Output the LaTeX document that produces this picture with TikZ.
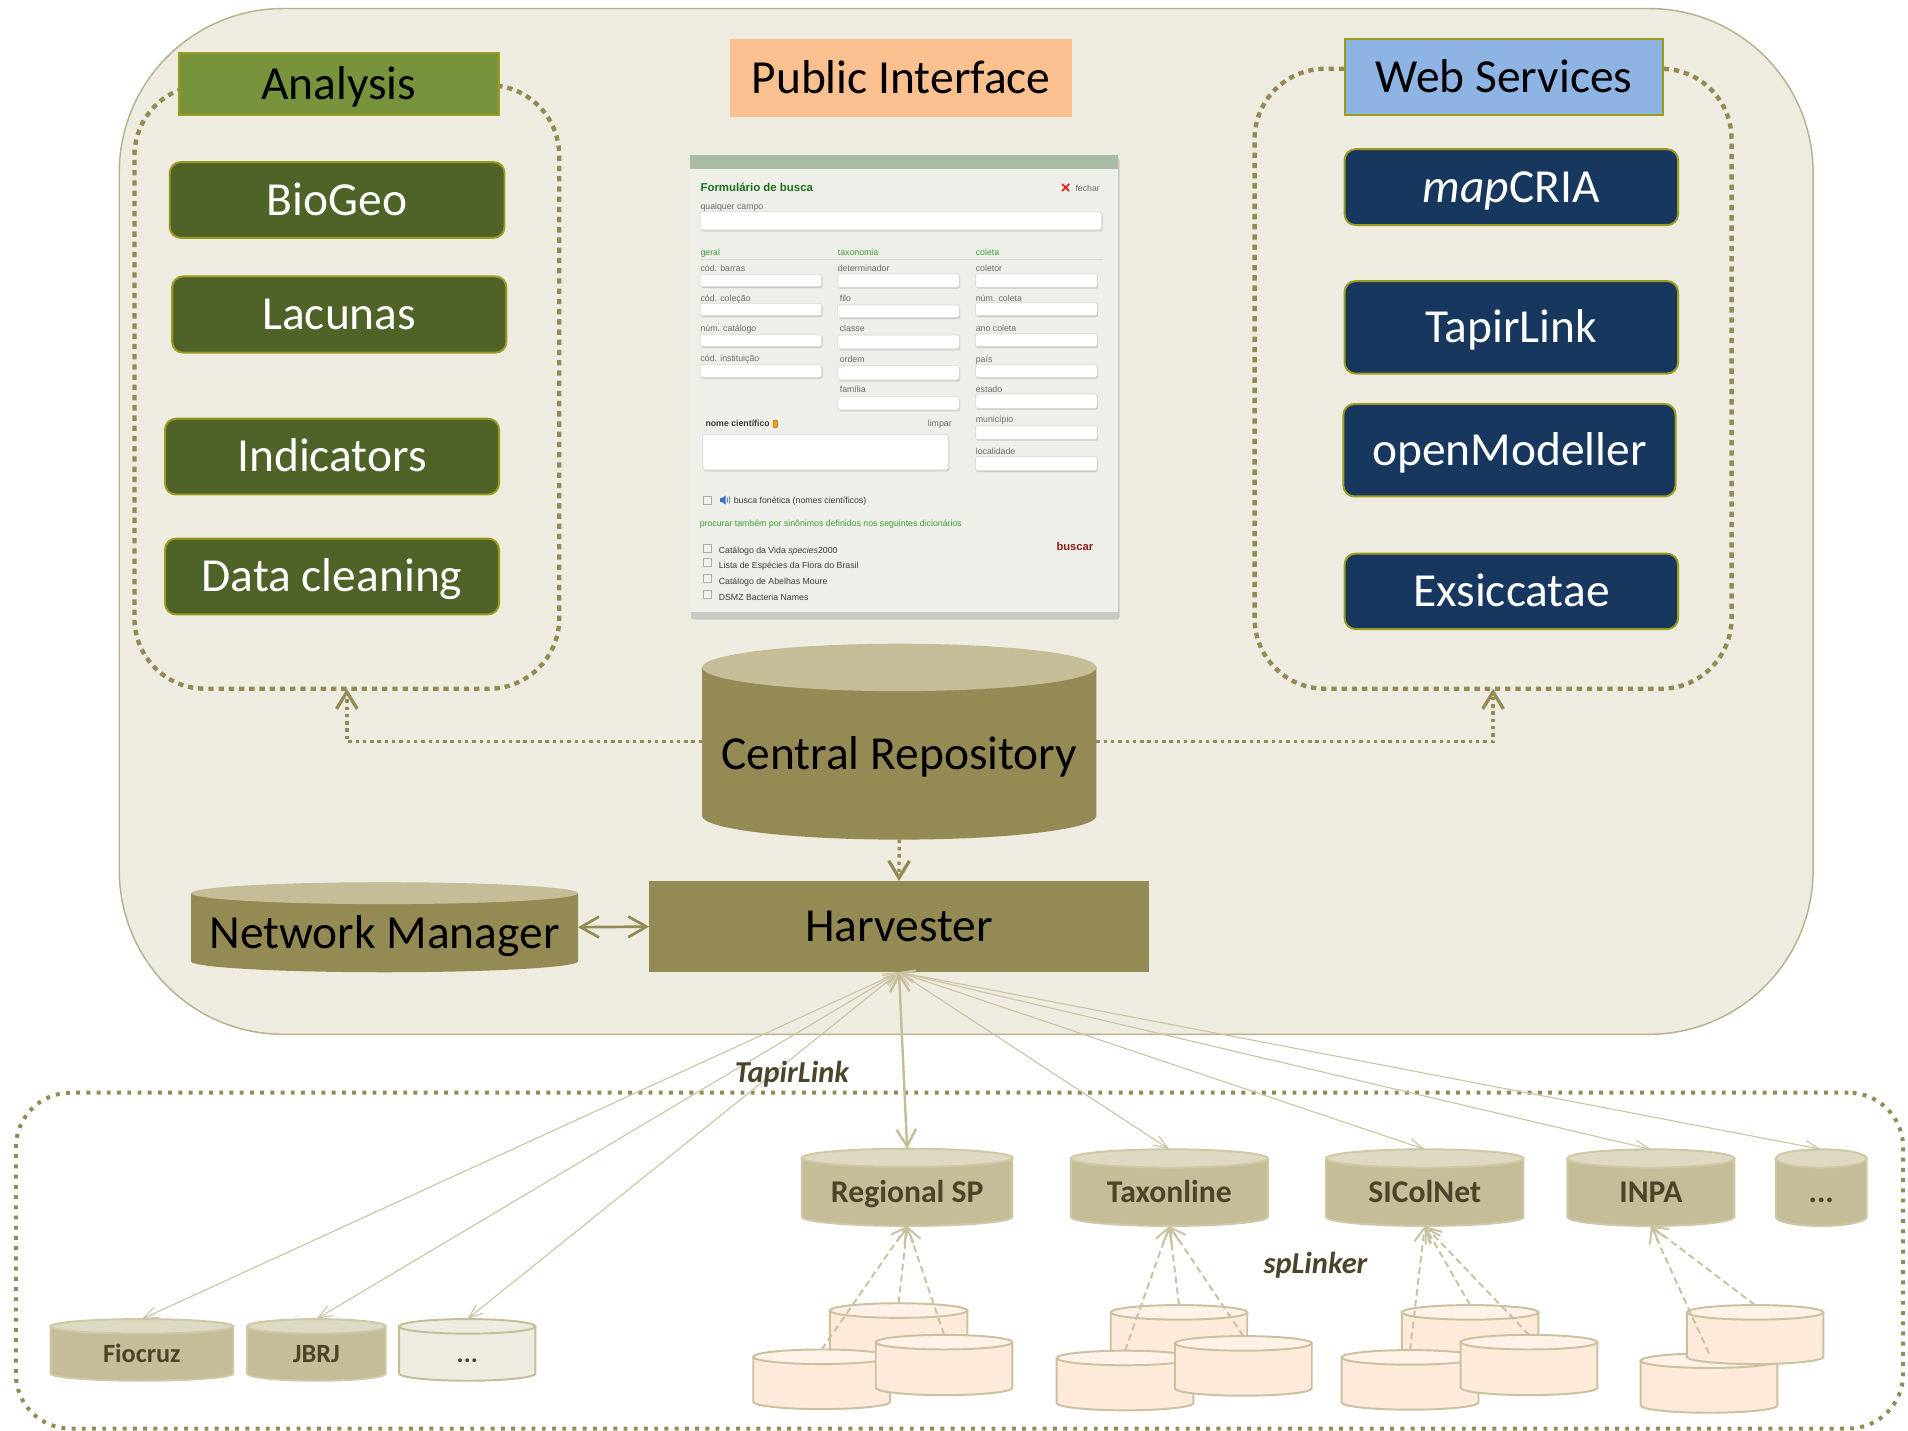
\documentclass[tikz,border=0pt]{standalone}
\usepackage{fontspec}
\setmainfont{Carlito}
\newfontfamily\formfont{Liberation Sans}
\usetikzlibrary{arrows.meta}
\definecolor{bgtan}{HTML}{EEECE1}
\definecolor{outerline}{HTML}{B9B18C}
\definecolor{olive}{HTML}{948A54}
\definecolor{tanlt}{HTML}{C4BD97}
\definecolor{tanltr}{HTML}{DDD9C3}
\definecolor{srcedge}{HTML}{CFC8A7}
\definecolor{grnhead}{HTML}{77933C}
\definecolor{grnbox}{HTML}{4F6228}
\definecolor{edgeyel}{HTML}{9D9B1D}
\definecolor{bluebox}{HTML}{17375E}
\definecolor{bluehead}{HTML}{8EB4E3}
\definecolor{peach}{HTML}{FAC090}
\definecolor{darktext}{HTML}{4A452A}
\definecolor{pinkf}{HTML}{FDEADA}
\definecolor{pinktop}{HTML}{FEF1E7}
\definecolor{pinkline}{HTML}{C9C1A0}
\definecolor{thinline}{HTML}{CBC3A3}
\definecolor{fpanel}{HTML}{EFEFEA}
\definecolor{fshadow}{HTML}{C9C9C4}
\definecolor{fbar}{HTML}{A8BCA5}
\definecolor{fgreen}{HTML}{3E9B36}
\definecolor{ftitle}{HTML}{1E6E1E}
\definecolor{fgrey}{HTML}{6A6A6A}
\definecolor{fdark}{HTML}{3A3A3A}
\definecolor{fred}{HTML}{E8261E}
\definecolor{fbuscar}{HTML}{8E1B1B}
\definecolor{finpedge}{HTML}{D6D6D1}
\definecolor{fblue}{HTML}{3A6FC4}
\definecolor{finfo}{HTML}{E8A317}
\newcommand\boxnode[7][]{\node[inner sep=0pt,outer sep=0pt,minimum width={(#5-#3)*0.5pt},minimum height={(#6-#4)*0.5pt},#1] (#2) at ({(#3+#5)/2},{(#4+#6)/2}) {#7};}
\newcommand\dbcyl[7]{%
  \path[#7 body] (#2,#4+#6) -- (#2,#5-#6) arc[start angle=180,end angle=0,x radius={(#3-#2)/2},y radius=#6] -- (#3,#4+#6) -- cycle;
  \path[#7 top] ({(#2+#3)/2},#4+#6) ellipse[x radius={(#3-#2)/2},y radius=#6];
  \node[inner sep=0pt,outer sep=0pt,minimum width={(#3-#2)*0.5pt},minimum height={(#5-#4)*0.5pt}] (#1) at ({(#2+#3)/2},{(#4+#5)/2}) {};}
\newcommand\finput[4]{%
  \fill[fshadow,rounded corners=0.7pt] (#1+0.8,#2+1.3) rectangle (#3+0.8,#4+1.3);
  \filldraw[fill=white,draw=finpedge,line width=0.25pt,rounded corners=0.7pt] (#1,#2) rectangle (#3,#4);}
\begin{document}
\begin{tikzpicture}[x=0.5pt,y=-0.5pt,
  outerbox/.style={draw=outerline,line width=0.6pt,fill=bgtan,rounded corners=67.5pt},
  grpbox/.style={draw=olive,line width=1.8pt,dash pattern=on 2.2pt off 2.0pt,rounded corners=29pt},
  srcbox/.style={draw=olive,line width=1.65pt,dash pattern=on 1.6pt off 2.6pt,rounded corners=22.5pt},
  bigtxt/.style={font=\fontsize{19.5pt}{23pt}\selectfont,text height=12.55pt,text depth=0pt},
  header/.style={bigtxt,draw=edgeyel,line width=0.8pt,text=black},
  gbox/.style={bigtxt,fill=grnbox,draw=edgeyel,line width=0.8pt,rounded corners=4.5pt,text=white},
  bbox/.style={bigtxt,fill=bluebox,draw=edgeyel,line width=0.8pt,rounded corners=4.5pt,text=white},
  cr body/.style={fill=olive},
  cr top/.style={fill=tanlt},
  src body/.style={fill=tanlt,draw=srcedge,line width=0.8pt},
  src top/.style={fill=tanltr,draw=srcedge,line width=0.8pt},
  light body/.style={fill=bgtan,draw=tanlt,line width=0.8pt},
  light top/.style={fill=bgtan,draw=tanlt,line width=0.8pt},
  pink body/.style={fill=pinkf,draw=pinkline,line width=0.8pt},
  pink top/.style={fill=pinktop,draw=pinkline,line width=0.8pt},
  srclbl/.style={font=\bfseries\fontsize{13pt}{15pt}\selectfont,text=darktext,anchor=base,inner sep=0pt},
  srclblb/.style={font=\bfseries\fontsize{10.8pt}{13pt}\selectfont,text=darktext,anchor=base,inner sep=0pt},
  protolbl/.style={font=\bfseries\itshape\fontsize{12.5pt}{15pt}\selectfont,text=darktext,inner sep=0pt},
  dotconn/.style={draw=olive,line width=1.35pt,dash pattern=on 1.4pt off 1.6pt,-{Straight Barb[length=7pt,width=8.5pt]}},
  nmconn/.style={draw=olive,line width=1.1pt,{Straight Barb[length=7.5pt,width=8.5pt]}-{Straight Barb[length=7.5pt,width=8.5pt]}},
  thinconn/.style={draw=thinline,line width=0.45pt,{Straight Barb[length=6pt,width=4.5pt]}-{Straight Barb[length=6pt,width=4.5pt]}},
  mainconn/.style={draw=tanlt,line width=1pt,{Straight Barb[length=7pt,width=8pt]}-{Straight Barb[length=7pt,width=8pt]}},
  dashconn/.style={draw=pinkline,line width=0.8pt,dash pattern=on 2.8pt off 1.7pt,-{Straight Barb[length=6pt,width=7pt]}},
  flbl/.style={anchor=base west,inner sep=0pt,font=\formfont\fontsize{3.6pt}{4.2pt}\selectfont,text=fgrey},
  fdk/.style={flbl,text=fdark},
  fgr/.style={flbl,text=fgreen}
]
\useasboundingbox (0,0) rectangle (1568,1176);
% main container
\boxnode[outerbox]{outer}{98}{7}{1490}{850}{}
% groups
\boxnode[grpbox]{an}{110.5}{70}{459.6}{566}{}
\boxnode[grpbox]{ws}{1031}{56.5}{1423}{566}{}
% headers
\boxnode[header,fill=grnhead]{anh}{147}{43.6}{410}{94.5}{Analysis}
\boxnode[header,fill=bluehead]{wsh}{1105}{32}{1367}{94.5}{Web Services}
\boxnode[bigtxt,fill=peach]{pih}{600}{32}{881}{96}{Public Interface}
% analysis modules
\boxnode[gbox]{bio}{139.5}{133.2}{414.6}{195.5}{BioGeo}
\boxnode[gbox]{lac}{141.4}{227.2}{416.2}{289.8}{Lacunas}
\boxnode[gbox]{ind}{135.6}{344.1}{410.1}{406.4}{Indicators}
\boxnode[gbox]{dcl}{135.6}{442.6}{410.1}{504.9}{Data cleaning}
% web services
\boxnode[bbox]{map}{1105}{122.6}{1379}{185}{\textit{map}CRIA}
\boxnode[bbox]{tap}{1105}{231}{1379}{307}{TapirLink}
\boxnode[bbox]{opm}{1104}{332}{1377}{408}{openModeller}
\boxnode[bbox]{exs}{1105}{455}{1379}{517}{Exsiccatae}
% search form screenshot
\begin{scope}[x=0.41092pt,y=-0.41092pt]
  \fill[fshadow,rounded corners=1pt] (691,158) rectangle (1119.5,619.5);
  \fill[fpanel] (690,155) rectangle (1118,612);
  \fill[fbar] (690,155) rectangle (1118,169);
  \node[anchor=base west,inner sep=0pt,font=\formfont\bfseries\fontsize{4.7pt}{5.5pt}\selectfont,text=ftitle] (ft) at (700,191) {Formulário de busca};
  \draw[fred,line width=0.7pt] (1062,184) -- (1069,191) (1069,184) -- (1062,191);
  \node[flbl] (ffe) at (1075,191) {fechar};
  \node[flbl] (fqc) at (700,209) {qualquer campo};
  \finput{700}{211.7}{1101.7}{230}
  \node[fgr] (fg1) at (700,255.7) {geral};
  \node[fgr] (fg2) at (837.3,255.7) {taxonomia};
  \node[fgr] (fg3) at (975.3,255.7) {coleta};
  \draw[finpedge,line width=0.3pt] (700,259.3) -- (1103,259.3);
  % column 1
  \node[flbl] (fa1) at (700,271) {cód. barras};
  \finput{700}{274.3}{821.7}{286.7}
  \node[flbl] (fa2) at (700,301) {cód. coleção};
  \finput{700}{303.3}{821.7}{315.7}
  \node[flbl] (fa3) at (700,331.7) {núm. catálogo};
  \finput{700}{334.3}{821.7}{346.7}
  \node[flbl] (fa4) at (700,361.7) {cód. instituição};
  \finput{700}{364.3}{821.7}{377.3}
  % column 2
  \node[flbl] (fb1) at (837.3,271) {determinador};
  \finput{837.3}{273.7}{959.3}{287.3}
  \node[flbl] (fb2) at (839.3,301.7) {filo};
  \finput{837.3}{305}{959.3}{317.7}
  \node[flbl] (fb3) at (839.3,331.7) {classe};
  \finput{837.3}{335}{959.3}{349}
  \node[flbl] (fb4) at (839.3,362.3) {ordem};
  \finput{837.3}{365.7}{959.3}{380}
  \node[flbl] (fb5) at (839.3,392.3) {família};
  \finput{837.3}{396.7}{959.3}{410}
  % column 3
  \node[flbl] (fc1) at (975.3,271) {coletor};
  \finput{975.3}{273.7}{1097.3}{287.3}
  \node[flbl] (fc2) at (975.3,301) {núm. coleta};
  \finput{975.3}{302.7}{1097.3}{315.7}
  \node[flbl] (fc3) at (975.3,331.7) {ano coleta};
  \finput{975.3}{333.7}{1097.3}{346.7}
  \node[flbl] (fc4) at (975.3,362) {país};
  \finput{975.3}{364.3}{1097.3}{377.3}
  \node[flbl] (fc5) at (975.3,392.3) {estado};
  \finput{975.3}{394}{1097.3}{408.3}
  \node[flbl] (fc6) at (975.3,422.7) {município};
  \finput{975.3}{425.7}{1097.3}{439.3}
  \node[flbl] (fc7) at (975.3,454) {localidade};
  \finput{975.3}{456.7}{1097.3}{470.7}
  % scientific name
  \node[fdk,font=\formfont\bfseries\fontsize{3.6pt}{4.2pt}\selectfont] (fnc) at (705,426.7) {nome científico};
  \filldraw[fill=finfo,draw=finfo!70!black,line width=0.2pt,rounded corners=0.4pt] (773,420) rectangle (777.5,427.5);
  \node[flbl] (flp) at (927.3,426) {limpar};
  \finput{702.7}{434.3}{948.3}{470}
  \fill[finpedge] (944,467) circle (0.5) (946,467) circle (0.5) (946,465) circle (0.5);
  % phonetic search
  \filldraw[fill=white!95!black,draw=finpedge!80!black,line width=0.25pt] (703.3,496) rectangle (711.7,504.3);
  \fill[fblue] (719.5,498) rectangle (722,502);
  \fill[fblue] (722,498) -- (725.5,495.5) -- (725.5,504.5) -- (722,502) -- cycle;
  \draw[fblue,line width=0.3pt] (727,497.5) -- (727.8,500) -- (727,502.5);
  \draw[fblue,line width=0.3pt] (729,496.5) -- (730,500) -- (729,503.5);
  \node[fdk] (fbf) at (733.3,503.3) {busca fonética (nomes científicos)};
  \node[fgr] (fps) at (699.3,526) {procurar também por sinônimos definidos nos seguintes dicionários};
  % dictionaries
  \foreach \yy in {544,558.3,574.3,590}
    \filldraw[fill=white!95!black,draw=finpedge!80!black,line width=0.25pt] (703.3,\yy) rectangle (711.7,\yy+8.3);
  \node[fdk] (fd1) at (718.3,553.3) {Catálogo da Vida \textit{species}2000};
  \node[fdk] (fd2) at (718.3,568.3) {Lista de Espécies da Flora do Brasil};
  \node[fdk] (fd3) at (718.3,584.3) {Catálogo de Abelhas Moure};
  \node[fdk] (fd4) at (718.3,600) {DSMZ Bacteria Names};
  \node[anchor=base west,inner sep=0pt,font=\formfont\bfseries\fontsize{4.6pt}{5.5pt}\selectfont,text=fbuscar] (fbu) at (1056,550.7) {buscar};
\end{scope}
% central repository, harvester, network manager
\dbcyl{cr}{577}{901}{529}{690}{19.5}{cr}
\node[bigtxt] (crl) at (739,620) {Central Repository};
\boxnode[bigtxt,fill=olive]{hv}{533.5}{724}{944}{799}{Harvester}
\dbcyl{nm}{157}{475}{725}{799}{9}{cr}
\node[bigtxt] (nml) at (316,767) {Network Manager};
\draw[dotconn] (cr.west) -| (an.south);
\draw[dotconn] (cr.east) -| (ws.south);
\draw[dotconn] (cr.south) -- (hv.north);
\draw[nmconn] (nm.east) -- (hv.west);
% data providers
\boxnode[srcbox]{src}{13}{898}{1564}{1174}{}
\dbcyl{rsp}{659}{832}{944}{1007.5}{7.5}{src}
\dbcyl{txo}{880}{1042}{944.5}{1007.5}{7.5}{src}
\dbcyl{sic}{1089.7}{1252}{944.5}{1007.5}{7.5}{src}
\dbcyl{inpa}{1288}{1425.3}{944.5}{1007.5}{7.5}{src}
\dbcyl{dta}{1459.3}{1534}{944.5}{1007.5}{7.5}{src}
\dbcyl{fio}{41.5}{191.7}{1084}{1134.7}{6}{src}
\dbcyl{jbrj}{203}{317}{1084}{1134.7}{6}{src}
\dbcyl{dtb}{328}{440}{1084}{1134.7}{6}{light}
\node[srclbl] (rspl) at (745.5,988) {Regional SP};
\node[srclbl] (txol) at (961,988) {Taxonline};
\node[srclbl] (sicl) at (1170.8,988) {SIColNet};
\node[srclbl] (inpal) at (1356.7,988) {INPA};
\node[srclbl] (dtal) at (1496.7,988) {...};
\node[srclblb] (fiol) at (116.6,1120) {Fiocruz};
\node[srclblb] (jbrjl) at (260,1120) {JBRJ};
\node[srclblb] (dtbl) at (384,1120) {...};
% local collections (spLinker)
\dbcyl{pb1}{682}{795}{1071}{1120}{6}{pink}
\dbcyl{pl1}{619}{731.5}{1109}{1158}{6}{pink}
\dbcyl{pr1}{719.7}{832}{1097}{1146.5}{6}{pink}
\dbcyl{pb2}{912.8}{1025}{1072.5}{1121.5}{6}{pink}
\dbcyl{pl2}{868.4}{980.7}{1110}{1159}{6}{pink}
\dbcyl{pr2}{965.6}{1078}{1098}{1147}{6}{pink}
\dbcyl{pb3}{1152}{1264.2}{1072.5}{1121.5}{6}{pink}
\dbcyl{pl3}{1102.6}{1215}{1109.5}{1158.5}{6}{pink}
\dbcyl{pr3}{1200.4}{1312.7}{1097}{1146.5}{6}{pink}
\dbcyl{pl4}{1348.3}{1460.6}{1112.2}{1161}{6}{pink}
\dbcyl{pb4}{1386.2}{1498.4}{1072.5}{1121}{6}{pink}
% harvester links
\foreach \t in {fio,jbrj,dtb,txo,sic,inpa,dta}
  \draw[thinconn] (hv.south) -- (\t.north);
\draw[mainconn] (hv.south) -- (rsp.north);
% spLinker links
\draw[dashconn] (pl1.north) -- (rsp.south);
\draw[dashconn] (pb1.north) -- (rsp.south);
\draw[dashconn] (pr1.north) -- (rsp.south);
\draw[dashconn] (pl2.north) -- (txo.south);
\draw[dashconn] (pb2.north) -- (txo.south);
\draw[dashconn] (pr2.north) -- (txo.south);
\draw[dashconn] (pl3.north) -- (sic.south);
\draw[dashconn] (pb3.north) -- (sic.south);
\draw[dashconn] (pr3.north) -- (sic.south);
\draw[dashconn] (pl4.north) -- (inpa.south);
\draw[dashconn] (pb4.north) -- (inpa.south);
% protocol labels
\node[protolbl,anchor=base east] (tpl) at (698,890) {TapirLink};
\node[protolbl,anchor=base west] (spl) at (1038,1046.4) {spLinker};
\end{tikzpicture}
\end{document}
